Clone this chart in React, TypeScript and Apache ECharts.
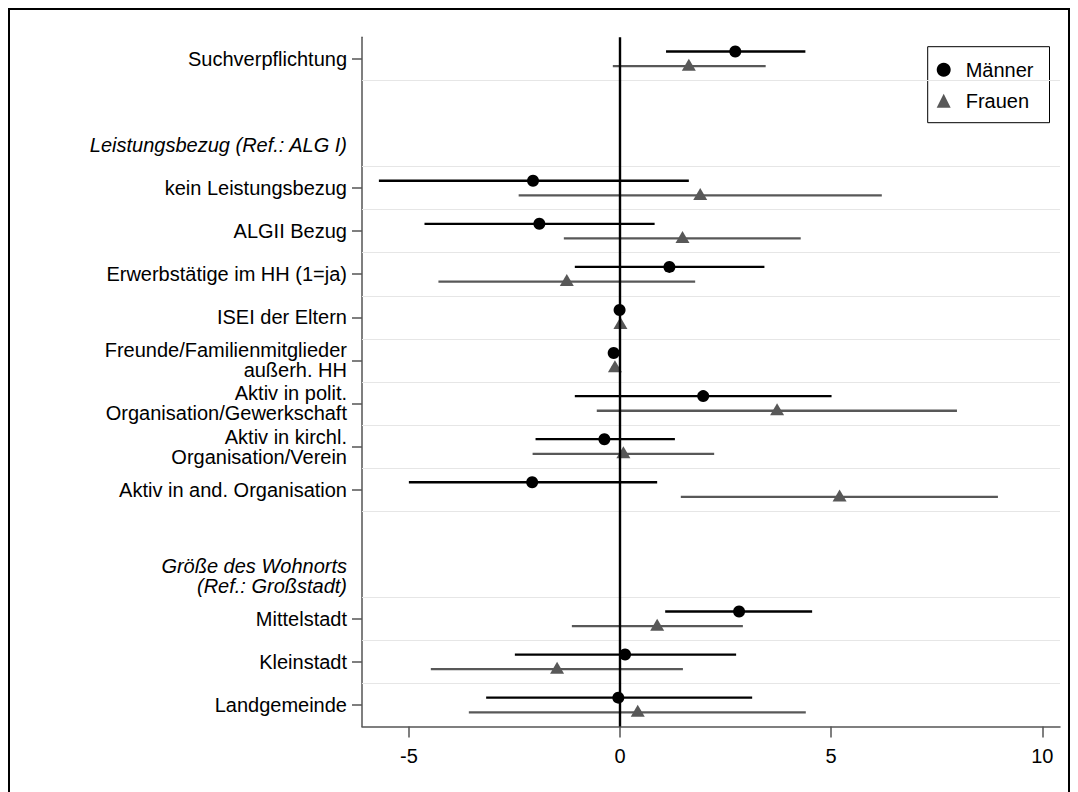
import React, { useEffect, useRef } from "react";
import * as echarts from "echarts";

// Row labels of the coefficient plot (top to bottom); "" = empty row
const rowLabels: string[] = [
  "Suchverpflichtung",
  "",
  "Leistungsbezug (Ref.: ALG I)",
  "kein Leistungsbezug",
  "ALGII Bezug",
  "Erwerbstätige im HH (1=ja)",
  "ISEI der Eltern",
  "Freunde/Familienmitglieder\naußerh. HH",
  "Aktiv in polit.\nOrganisation/Gewerkschaft",
  "Aktiv in kirchl.\nOrganisation/Verein",
  "Aktiv in and. Organisation",
  "",
  "Größe des Wohnorts\n(Ref.: Großstadt)",
  "Mittelstadt",
  "Kleinstadt",
  "Landgemeinde",
];
const headerRows: number[] = [2, 12];
const coefRows: number[] = [0, 3, 4, 5, 6, 7, 8, 9, 10, 13, 14, 15];

const xTicks: number[] = [-5, 0, 5, 10];

// Männer
const menEst: number[] = [2.73, -2.06, -1.91, 1.17, -0.01, -0.15, 1.97, -0.37, -2.08, 2.82, 0.12, -0.04];
const menLo: number[] = [1.09, -5.71, -4.63, -1.07, -0.05, -0.22, -1.07, -2.0, -5.0, 1.07, -2.49, -3.17];
const menHi: number[] = [4.39, 1.63, 0.82, 3.42, 0.03, -0.08, 5.01, 1.3, 0.88, 4.55, 2.75, 3.13];
// Frauen
const womenEst: number[] = [1.63, 1.9, 1.48, -1.26, 0.01, -0.12, 3.72, 0.08, 5.2, 0.88, -1.49, 0.42];
const womenLo: number[] = [-0.17, -2.4, -1.33, -4.3, -0.03, -0.2, -0.55, -2.07, 1.44, -1.14, -4.48, -3.58];
const womenHi: number[] = [3.45, 6.2, 4.28, 1.78, 0.05, -0.04, 7.98, 2.23, 8.95, 2.91, 1.49, 4.4];

const MEN_COLOR = "#000000";
const WOMEN_COLOR = "#585858";
const AXIS_COLOR = "#555555";
const OFFSET = 0.17;

// boundaries next to coefficient rows get a light grid line
const gridBoundaries: number[] = Array.from(
  new Set(coefRows.flatMap((r) => [r - 0.5, r + 0.5]))
)
  .filter((b) => b > -0.5 && b < rowLabels.length - 0.5)
  .sort((a, b) => a - b);

const labelRows: number[] = rowLabels
  .map((l, i) => (l ? i : -1))
  .filter((i) => i >= 0);

function errorBarRender(color: string) {
  return (params: any, api: any) => {
    const y = api.value(2);
    const p1 = api.coord([api.value(0), y]);
    const p2 = api.coord([api.value(1), y]);
    return {
      type: "line",
      shape: { x1: p1[0], y1: p1[1], x2: p2[0], y2: p2[1] },
      style: { stroke: color, lineWidth: 2.3 },
    };
  };
}

export default function App() {
  const ref = useRef<HTMLDivElement>(null);

  useEffect(() => {
    document.body.style.overflow = "hidden";
    if (!ref.current) return;
    const chart = echarts.init(ref.current, undefined, { renderer: "svg" });
    const font = '"Liberation Sans", Arial, Helvetica, sans-serif';

    const option: any = {
      animation: false,
      textStyle: { fontFamily: font },
      grid: { left: 352, top: 27.3, width: 698, height: 689.2, containLabel: false },
      xAxis: {
        type: "value",
        min: -6.11,
        max: 10.42,
        axisLine: { show: true, onZero: false, lineStyle: { color: AXIS_COLOR, width: 1.5 } },
        axisTick: { show: true, length: 11, customValues: xTicks, lineStyle: { color: AXIS_COLOR, width: 1.5 } },
        axisLabel: { customValues: xTicks, fontSize: 20, color: "#000", margin: 19, fontFamily: font },
        splitLine: { show: false },
      },
      yAxis: {
        type: "value",
        inverse: true,
        min: -0.5,
        max: rowLabels.length - 0.5,
        axisLine: { show: true, onZero: false, lineStyle: { color: AXIS_COLOR, width: 1.5 } },
        axisTick: { show: true, length: 10, customValues: coefRows, lineStyle: { color: AXIS_COLOR, width: 1.5 } },
        axisLabel: {
          customValues: labelRows,
          fontSize: 20,
          lineHeight: 20,
          color: "#000",
          margin: 15,
          fontFamily: font,
          formatter: (v: number) => {
            const idx = Math.round(v);
            const txt = rowLabels[idx] || "";
            if (headerRows.includes(idx)) {
              return txt
                .split("\n")
                .map((l) => `{h|${l}}`)
                .join("\n");
            }
            return txt;
          },
          rich: {
            h: { fontStyle: "italic", fontSize: 20, lineHeight: 20, color: "#000", align: "right", fontFamily: font },
          },
        },
        splitLine: { show: false },
      },
      legend: {
        data: ["Männer", "Frauen"],
        orient: "vertical",
        left: 917.7,
        top: 36.7,
        padding: [13, 16, 12, 9],
        itemWidth: 14,
        itemHeight: 14,
        itemGap: 11,
        borderColor: "#000",
        borderWidth: 1,
        backgroundColor: "#fff",
        textStyle: { fontSize: 20, color: "#000", fontFamily: font, padding: [0, 0, 0, 10] },
      },
      series: [
        {
          type: "scatter",
          name: "grid",
          data: [],
          silent: true,
          z: 0,
          markLine: {
            silent: true,
            symbol: "none",
            label: { show: false },
            lineStyle: { color: "#e6e6e6", width: 1.2, type: "solid" },
            data: gridBoundaries.map((b) => ({ yAxis: b })),
          },
        },
        {
          type: "custom",
          name: "Männer KI",
          silent: true,
          z: 2,
          renderItem: errorBarRender(MEN_COLOR),
          encode: { x: [0, 1], y: 2 },
          data: coefRows.map((r, i) => [menLo[i], menHi[i], r - OFFSET]),
        },
        {
          type: "custom",
          name: "Frauen KI",
          silent: true,
          z: 2,
          renderItem: errorBarRender(WOMEN_COLOR),
          encode: { x: [0, 1], y: 2 },
          data: coefRows.map((r, i) => [womenLo[i], womenHi[i], r + OFFSET]),
        },
        {
          type: "scatter",
          name: "Männer",
          symbol: "circle",
          symbolSize: 12,
          z: 4,
          itemStyle: { color: MEN_COLOR, opacity: 1 },
          data: coefRows.map((r, i) => [menEst[i], r - OFFSET]),
          markLine: {
            silent: true,
            symbol: "none",
            label: { show: false },
            lineStyle: { color: "#000", width: 2.4, type: "solid" },
            data: [{ xAxis: 0 }],
          },
        },
        {
          type: "scatter",
          name: "Frauen",
          symbol: "triangle",
          symbolSize: [14, 12],
          symbolOffset: [0, -1.5],
          z: 4,
          itemStyle: { color: WOMEN_COLOR, opacity: 1 },
          data: coefRows.map((r, i) => [womenEst[i], r + OFFSET]),
        },
      ],
    };

    chart.setOption(option);
    return () => {
      chart.dispose();
    };
  }, []);

  return (
    <div
      style={{
        width: 1062,
        height: 790,
        border: "2px solid #000",
        boxSizing: "border-box",
        background: "#fff",
      }}
    >
      <div ref={ref} style={{ width: 1058, height: 786 }} />
    </div>
  );
}
